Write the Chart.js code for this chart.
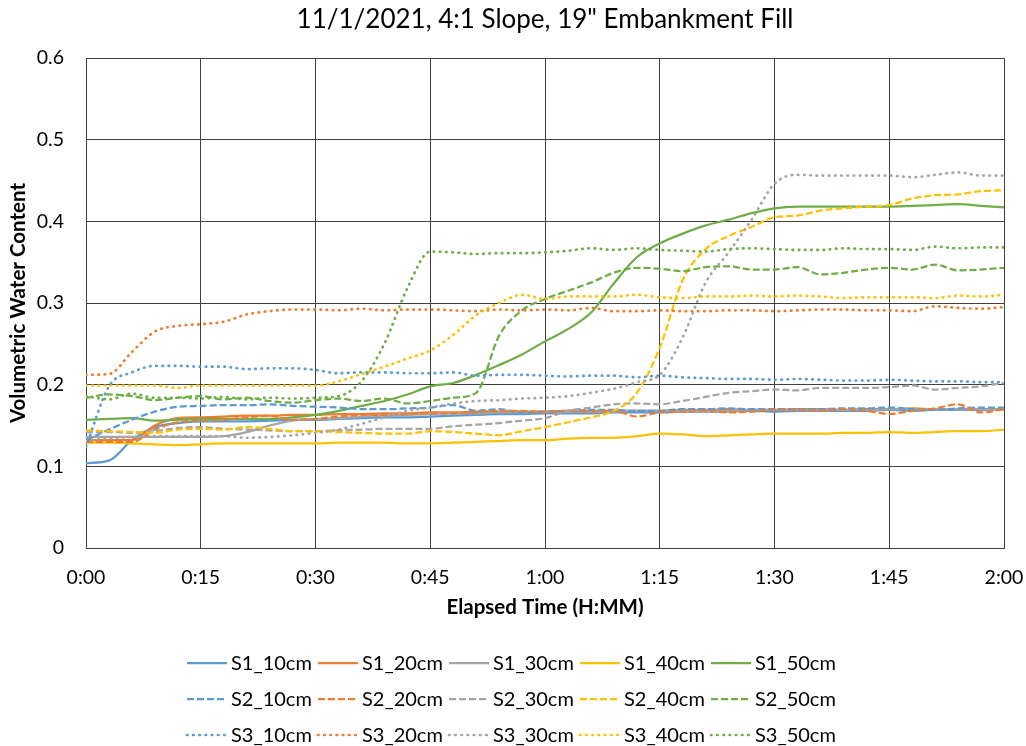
<!DOCTYPE html>
<html>
<head>
<meta charset="utf-8">
<title>VWC 11/1/2021</title>
<script src="https://cdn.jsdelivr.net/npm/chart.js@4.4.1/dist/chart.umd.min.js"></script>
<style>
  html, body { margin: 0; padding: 0; background: #fff; }
  #wrap { width: 1026px; height: 746px; }
</style>
</head>
<body>
<div id="wrap"><canvas id="vwcChart" width="1026" height="746"></canvas></div>
<script>
// elapsed minutes for every reading
const minutes = [0, 3, 6, 9, 12, 15, 18, 21, 24, 27, 30, 33, 36, 39, 42, 45, 48, 51, 54, 57, 60,
  63, 66, 69, 72, 75, 78, 81, 84, 87, 90, 93, 96, 99, 102, 105, 108, 111, 114, 117, 120];

const timeTicks = [0, 15, 30, 45, 60, 75, 90, 105, 120];
const vwcTicks = [0, 0.1, 0.2, 0.3, 0.4, 0.5, 0.6];

// station 1
const s1_10 = [0.104, 0.107, 0.132, 0.148, 0.153, 0.155, 0.155, 0.155, 0.156, 0.157, 0.157, 0.158, 0.159, 0.160, 0.160, 0.161, 0.162, 0.163, 0.164, 0.164, 0.165,
  0.165, 0.165, 0.166, 0.166, 0.166, 0.167, 0.167, 0.167, 0.168, 0.167, 0.168, 0.168, 0.168, 0.168, 0.169, 0.168, 0.169, 0.169, 0.169, 0.170];
const s1_20 = [0.132, 0.132, 0.132, 0.150, 0.159, 0.160, 0.161, 0.162, 0.162, 0.163, 0.163, 0.164, 0.164, 0.165, 0.165, 0.166, 0.166, 0.167, 0.167, 0.167, 0.167,
  0.168, 0.168, 0.168, 0.168, 0.168, 0.169, 0.169, 0.170, 0.169, 0.169, 0.170, 0.170, 0.169, 0.170, 0.170, 0.171, 0.170, 0.170, 0.170, 0.170];
const s1_30 = [0.136, 0.136, 0.136, 0.136, 0.136, 0.136, 0.137, 0.142, 0.150, 0.156, 0.158, 0.159, 0.161, 0.162, 0.163, 0.164, 0.165, 0.165, 0.166, 0.166, 0.167,
  0.167, 0.167, 0.167, 0.168, 0.168, 0.168, 0.168, 0.168, 0.169, 0.169, 0.169, 0.169, 0.169, 0.169, 0.170, 0.170, 0.170, 0.170, 0.170, 0.170];
const s1_40 = [0.129, 0.129, 0.128, 0.127, 0.126, 0.127, 0.128, 0.128, 0.128, 0.128, 0.128, 0.129, 0.129, 0.129, 0.128, 0.128, 0.129, 0.130, 0.131, 0.132, 0.132,
  0.134, 0.135, 0.135, 0.137, 0.140, 0.139, 0.137, 0.138, 0.139, 0.140, 0.140, 0.140, 0.141, 0.141, 0.142, 0.141, 0.142, 0.143, 0.143, 0.145];
const s1_50 = [0.157, 0.158, 0.159, 0.156, 0.157, 0.158, 0.158, 0.158, 0.158, 0.160, 0.163, 0.168, 0.174, 0.180, 0.188, 0.198, 0.202, 0.212, 0.224, 0.237, 0.253,
  0.268, 0.288, 0.324, 0.356, 0.373, 0.385, 0.395, 0.402, 0.410, 0.416, 0.418, 0.418, 0.418, 0.418, 0.418, 0.419, 0.420, 0.421, 0.419, 0.417];

// station 2
const s2_10 = [0.132, 0.145, 0.157, 0.167, 0.173, 0.174, 0.175, 0.175, 0.176, 0.174, 0.173, 0.172, 0.170, 0.170, 0.171, 0.172, 0.175, 0.168, 0.170, 0.166, 0.167,
  0.168, 0.169, 0.169, 0.168, 0.168, 0.170, 0.170, 0.171, 0.170, 0.170, 0.170, 0.170, 0.171, 0.171, 0.172, 0.170, 0.169, 0.171, 0.172, 0.172];
const s2_20 = [0.130, 0.130, 0.130, 0.145, 0.154, 0.156, 0.157, 0.160, 0.162, 0.157, 0.158, 0.161, 0.163, 0.163, 0.164, 0.165, 0.165, 0.166, 0.168, 0.168, 0.166,
  0.168, 0.167, 0.168, 0.161, 0.166, 0.167, 0.168, 0.166, 0.167, 0.169, 0.169, 0.168, 0.170, 0.168, 0.164, 0.168, 0.171, 0.176, 0.166, 0.170];
const s2_30 = [0.142, 0.142, 0.141, 0.143, 0.147, 0.148, 0.146, 0.145, 0.144, 0.143, 0.143, 0.144, 0.145, 0.146, 0.146, 0.146, 0.149, 0.151, 0.153, 0.156, 0.159,
  0.168, 0.172, 0.176, 0.177, 0.176, 0.180, 0.185, 0.190, 0.192, 0.194, 0.193, 0.196, 0.196, 0.196, 0.197, 0.199, 0.194, 0.196, 0.198, 0.202];
const s2_40 = [0.144, 0.143, 0.142, 0.141, 0.145, 0.146, 0.145, 0.148, 0.146, 0.143, 0.143, 0.142, 0.141, 0.140, 0.140, 0.143, 0.142, 0.140, 0.138, 0.143, 0.148,
  0.154, 0.160, 0.168, 0.190, 0.245, 0.328, 0.366, 0.382, 0.393, 0.405, 0.407, 0.413, 0.416, 0.418, 0.420, 0.428, 0.432, 0.433, 0.437, 0.438];
const s2_50 = [0.184, 0.188, 0.186, 0.181, 0.184, 0.186, 0.182, 0.184, 0.180, 0.178, 0.181, 0.183, 0.180, 0.183, 0.177, 0.180, 0.184, 0.190, 0.260, 0.291, 0.305,
  0.315, 0.325, 0.337, 0.343, 0.342, 0.339, 0.344, 0.345, 0.341, 0.341, 0.344, 0.335, 0.337, 0.341, 0.343, 0.341, 0.347, 0.340, 0.341, 0.343];

// station 3
const s3_10 = [0.124, 0.198, 0.215, 0.223, 0.223, 0.222, 0.222, 0.219, 0.220, 0.220, 0.218, 0.214, 0.215, 0.215, 0.214, 0.214, 0.215, 0.211, 0.212, 0.212, 0.211,
  0.210, 0.211, 0.211, 0.209, 0.211, 0.209, 0.208, 0.207, 0.207, 0.206, 0.207, 0.206, 0.205, 0.205, 0.206, 0.205, 0.204, 0.204, 0.203, 0.203];
const s3_20 = [0.212, 0.213, 0.240, 0.265, 0.272, 0.274, 0.277, 0.286, 0.290, 0.292, 0.292, 0.291, 0.293, 0.291, 0.292, 0.292, 0.291, 0.290, 0.292, 0.291, 0.292,
  0.291, 0.294, 0.290, 0.290, 0.291, 0.290, 0.290, 0.291, 0.291, 0.290, 0.291, 0.292, 0.292, 0.291, 0.291, 0.290, 0.296, 0.294, 0.293, 0.295];
const s3_30 = [0.132, 0.134, 0.136, 0.137, 0.137, 0.137, 0.137, 0.135, 0.136, 0.138, 0.141, 0.145, 0.152, 0.160, 0.168, 0.172, 0.177, 0.180, 0.181, 0.183, 0.184,
  0.186, 0.190, 0.195, 0.203, 0.212, 0.258, 0.325, 0.362, 0.402, 0.446, 0.457, 0.456, 0.456, 0.456, 0.456, 0.454, 0.457, 0.460, 0.456, 0.456];
const s3_40 = [0.199, 0.199, 0.199, 0.199, 0.196, 0.199, 0.199, 0.199, 0.199, 0.199, 0.199, 0.204, 0.213, 0.222, 0.232, 0.242, 0.261, 0.285, 0.300, 0.310, 0.305,
  0.308, 0.308, 0.308, 0.310, 0.307, 0.306, 0.308, 0.308, 0.309, 0.308, 0.309, 0.308, 0.306, 0.307, 0.307, 0.307, 0.306, 0.309, 0.308, 0.310];
const s3_50 = [0.186, 0.182, 0.189, 0.184, 0.184, 0.183, 0.185, 0.182, 0.184, 0.183, 0.184, 0.186, 0.204, 0.250, 0.318, 0.363, 0.362, 0.360, 0.361, 0.361, 0.362,
  0.364, 0.367, 0.365, 0.367, 0.365, 0.364, 0.363, 0.366, 0.367, 0.366, 0.365, 0.365, 0.367, 0.366, 0.366, 0.365, 0.369, 0.367, 0.368, 0.368];

const seriesNames = [
  "S1_10cm", "S1_20cm", "S1_30cm", "S1_40cm", "S1_50cm",
  "S2_10cm", "S2_20cm", "S2_30cm", "S2_40cm", "S2_50cm",
  "S3_10cm", "S3_20cm", "S3_30cm", "S3_40cm", "S3_50cm",
];
const seriesValues = [s1_10, s1_20, s1_30, s1_40, s1_50, s2_10, s2_20, s2_30, s2_40, s2_50, s3_10, s3_20, s3_30, s3_40, s3_50];

// one colour per depth, one line style per station
const depthColors = ["#5B9BD5", "#ED7D31", "#A5A5A5", "#FFC000", "#70AD47"];
const stationStyles = [
  { dash: [], cap: "butt", width: 2.25 },
  { dash: [7, 3], cap: "butt", width: 2.25 },
  { dash: [0.5, 5.7], cap: "round", width: 2.7 },
];

const FONT = "Lato, 'Open Sans', sans-serif";

const datasets = seriesValues.map((vals, i) => {
  const st = stationStyles[Math.floor(i / 5)];
  return {
    label: seriesNames[i],
    data: vals.map((v, k) => ({ x: minutes[k], y: v })),
    borderColor: depthColors[i % 5],
    backgroundColor: depthColors[i % 5],
    borderWidth: st.width,
    borderDash: st.dash,
    borderCapStyle: st.cap,
    pointRadius: 0,
    fill: false,
    cubicInterpolationMode: "monotone",
    order: seriesValues.length - i, // later series on top
  };
});

const fmtTime = (m) => Math.floor(m / 60) + ":" + String(m % 60).padStart(2, "0");

// legend laid out as 3 rows x 5 columns under the x axis
const gridLegend = {
  id: "gridLegend",
  afterDraw(chart) {
    const ctx = chart.ctx;
    ctx.save();
    ctx.font = "20px " + FONT;
    ctx.textBaseline = "middle";
    ctx.fillStyle = "#000";
    chart.data.datasets.forEach((ds, i) => {
      const x = 187 + (i % 5) * 131;
      const y = 663 + Math.floor(i / 5) * 36;
      ctx.beginPath();
      ctx.strokeStyle = ds.borderColor;
      ctx.lineWidth = ds.borderWidth;
      ctx.lineCap = ds.borderCapStyle;
      ctx.setLineDash(ds.borderDash);
      ctx.moveTo(x, y);
      ctx.lineTo(x + 40, y);
      ctx.stroke();
      ctx.setLineDash([]);
      ctx.fillText(ds.label, x + 44, y + 1);
    });
    ctx.restore();
  },
};

const gridColor = "#404040";

new Chart(document.getElementById("vwcChart"), {
  type: "line",
  data: { datasets },
  plugins: [gridLegend],
  options: {
    responsive: false,
    animation: false,
    layout: { padding: { top: 0, left: 0, right: 22, bottom: 122 } },
    plugins: {
      legend: { display: false },
      tooltip: { enabled: false },
      title: {
        display: true,
        fullSize: false,
        text: '11/1/2021, 4:1 Slope, 19" Embankment Fill',
        color: "#000",
        font: { family: FONT, size: 26, weight: "normal" },
        padding: { top: 4, bottom: 22.8 },
      },
    },
    scales: {
      x: {
        type: "linear",
        min: 0,
        max: 120,
        afterBuildTicks: (scale) => { scale.ticks = timeTicks.map((v) => ({ value: v })); },
        afterFit: (scale) => {
          scale.height = 76;
          scale.paddingLeft = 0;
          scale.paddingRight = 0;
        },
        ticks: {
          color: "#000",
          font: { family: FONT, size: 19.5 },
          padding: 18,
          maxRotation: 0,
          callback: (v) => fmtTime(v),
        },
        grid: { color: gridColor, lineWidth: 1, drawTicks: false },
        border: { color: gridColor, width: 1 },
        title: {
          display: true,
          text: "Elapsed Time (H:MM)",
          color: "#000",
          font: { family: FONT, size: 20.5, weight: "bold" },
          padding: { top: 0, bottom: 4 },
        },
      },
      y: {
        min: 0,
        max: 0.6,
        afterBuildTicks: (scale) => { scale.ticks = vwcTicks.map((v) => ({ value: v })); },
        afterFit: (scale) => {
          scale.width = 86;
          scale.paddingTop = 0;
          scale.paddingBottom = 0;
        },
        ticks: {
          color: "#000",
          font: { family: FONT, size: 19.5 },
          padding: 22,
          callback: (v) => (v === 0 ? "0" : v.toFixed(1)),
        },
        grid: { color: gridColor, lineWidth: 1, drawTicks: false },
        border: { color: gridColor, width: 1 },
        title: {
          display: true,
          text: "Volumetric Water Content",
          color: "#000",
          font: { family: FONT, size: 20.5, weight: "bold" },
          padding: { top: 6, bottom: 0 },
        },
      },
    },
  },
});
</script>
</body>
</html>
